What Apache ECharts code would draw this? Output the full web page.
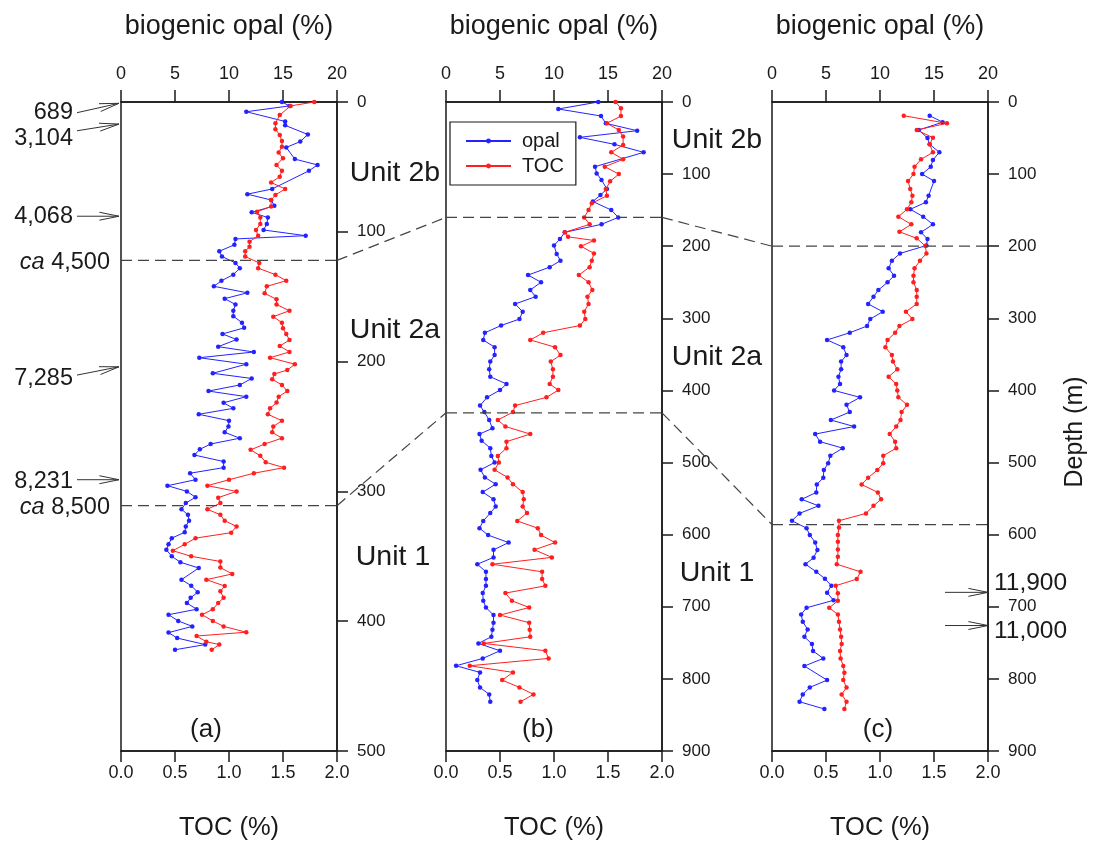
<!DOCTYPE html>
<html>
<head>
<meta charset="utf-8">
<script src="https://cdn.jsdelivr.net/npm/echarts@6/dist/echarts.min.js"></script>
<style>
  html, body { margin: 0; padding: 0; background: #fff; }
  #chart { width: 1094px; height: 846px; }
</style>
</head>
<body>
<div id="chart"></div>
<script>
// ---- Core (a): depth (m) vs biogenic opal (%) and TOC (%) ----
const aOpalDepth = [0,3,7.5,15,18,25,30.5,35,44,48.5,53,67,71,75.5,80,85,89,94,98.6,103,105.5,110,115,119,124,128,133,137.7,142,147,151.5,156,160.8,165,170,174,178.7,183,188.5,192.6,197,202,209,213,218,222.7,227,231.7,236,240.6,245.5,250,254.5,259,263.5,267.6,272,277,281.7,286,291,295.6,300,304.5,309,313.8,318,322.6,327,331.5,336,340.8,345,350,354.6,359,368,372.6,377.7,382,386,390.8,395,399.8,404,408.8,413,418,422];
const aOpal = [14.9,15.6,11.6,15.2,15.2,17.3,16.6,15.3,16.1,18.2,17.4,14.0,11.7,13.9,14.2,12.1,13.6,13.5,13.2,17.1,10.6,10.5,9.1,9.35,10.6,11.0,10.4,9.3,8.6,11.7,9.6,10.6,10.4,10.4,11.2,11.4,9.4,10.7,9.0,12.3,7.25,11.6,8.5,12.1,11.0,8.1,11.6,9.5,10.4,7.2,10.0,9.95,9.6,11.0,8.3,7.3,6.8,9.5,9.5,6.4,6.9,4.3,6.1,6.9,6.0,5.6,6.2,6.3,6.0,5.9,4.7,4.4,4.2,4.7,5.5,7.2,5.6,6.5,7.1,6.45,6.1,7.0,4.4,5.3,6.6,4.4,5.2,7.8,5.0];
const aTocDepth = [0,3,10,16.4,21,25.4,30,34.4,39,43.4,48.5,53,57.5,62,67,71.6,75.5,80.6,84.5,89,94,98.6,103,107.6,111.5,115,119,124,128,133,137.7,142,147.4,152,156,160.8,165.4,170,174.4,178.7,183.4,188,192.6,197,202,206.5,209.5,213.6,218,222.7,227,231.6,236,240.6,245.5,250,254.5,259,263.5,268,272.5,277.6,281.7,286,291,295.6,300,304.8,309,313.8,318,322.6,327,331.8,336,340.8,345.7,350,354,358.7,363.6,368,372.9,377,382,386,390.8,395,399.8,404,408.5,411.4,415.8,418,422];
const aToc = [1.79,1.57,1.47,1.43,1.43,1.47,1.49,1.49,1.46,1.50,1.44,1.49,1.47,1.39,1.52,1.43,1.39,1.39,1.26,1.29,1.29,1.25,1.27,1.19,1.19,1.15,1.15,1.28,1.27,1.43,1.53,1.35,1.33,1.44,1.44,1.56,1.41,1.49,1.50,1.53,1.56,1.47,1.56,1.38,1.61,1.54,1.42,1.40,1.49,1.54,1.46,1.44,1.38,1.36,1.49,1.41,1.40,1.49,1.33,1.20,1.29,1.34,1.51,1.23,1.00,0.80,1.07,0.90,0.92,0.80,0.92,0.96,1.07,1.02,0.69,0.59,0.48,0.65,0.92,0.92,1.03,0.79,0.96,0.92,0.95,0.90,0.85,0.75,0.85,0.95,1.16,0.70,0.79,0.91,0.84];

// ---- Core (b) ----
const bOpalDepth = [0,9.7,19.4,29.6,39.8,49,58.7,69.8,89.7,99,108,120.7,129,138,149.8,160,169.6,180.7,190,199,210.8,220,229,240,250,260.7,270,280,290.8,301,310,320,330,340,351,360,370.7,381,391,399.5,409.6,421,430,441,452.6,460.5,469.7,480,491,500,510,520.6,530,541,551,561,570,581,591,600.6,611,621,631.5,641,651.5,661.6,671,681,691.7,701,711.5,722,732,741.6,750.8,761,771.6,781.8,791,801.7,811.8,821.5,831.7];
const bOpal = [14.1,10.4,14.35,14.8,17.7,12.4,15.6,18.3,13.8,13.95,14.4,14.9,14.3,13.6,15.3,15.95,14.4,11.0,10.55,10.0,10.25,10.6,9.6,7.6,8.8,7.8,8.3,6.4,7.1,6.8,5.1,3.6,3.45,4.5,4.5,4.1,4.0,4.1,5.6,5.0,3.8,3.15,3.55,4.0,4.3,3.1,3.3,4.1,4.2,4.5,3.2,3.6,4.6,3.4,4.4,4.6,4.1,3.45,3.1,3.9,5.8,4.4,4.4,2.9,3.7,3.7,3.7,3.4,3.45,3.7,4.4,4.4,4.3,4.2,3.0,5.0,3.4,0.93,3.15,2.9,3.15,4.0,4.1];
const bTocDepth = [0,8.8,19.4,29.6,38.8,48,59.6,69.8,79.5,89.7,100,110,120.7,130,140.5,149.8,160,169.7,180.7,187,192,200,210,220,229,240,250,260.7,270,280,290.8,301,310,320,330,340,351,360,370.7,381,391,399.5,409.6,421,430,441,450,460.5,471,480,491,500,510,520.6,530,541,551,561,570,581,591,600.6,611,621,631.5,641,651.5,661.6,671,681,691.7,701,711.5,722,732,741.6,750.8,761,771.6,781.8,791,801.7,811.8,821.5,831.7];
const bToc = [1.57,1.62,1.62,1.49,1.60,1.64,1.64,1.53,1.64,1.47,1.60,1.52,1.48,1.49,1.35,1.32,1.28,1.33,1.10,1.13,1.37,1.25,1.37,1.35,1.33,1.23,1.32,1.355,1.31,1.32,1.28,1.29,1.24,0.90,0.78,1.01,1.06,0.97,0.99,0.99,0.96,1.04,0.93,0.64,0.62,0.48,0.55,0.78,0.56,0.56,0.48,0.49,0.45,0.57,0.62,0.71,0.72,0.71,0.75,0.66,0.85,0.88,1.01,0.82,0.98,0.43,0.89,0.89,0.92,0.55,0.61,0.77,0.50,0.77,0.775,0.78,0.35,0.92,0.95,0.22,0.62,0.52,0.68,0.81,0.69];

// ---- Core (c) ----
const cOpalDepth = [19,28,38.8,50,58.7,69.8,80.4,89.7,100,109.6,130,139,148.8,159,169.7,180.7,190,199,210,220,230.7,241,250,260.7,270,280,290.8,301,310.7,320,330,340,351,360,370.7,381,391,400,409.6,420,430,441,450,460.5,471,480,490.5,501,510.4,521,530.4,541.4,551,560,570.5,580.7,591,600.6,610.7,621.4,632,641,651.5,661,670.8,680.5,691,701.4,710.6,720.8,731.4,741.6,751.7,761.4,771.6,782.2,801.7,811.8,821.5,831.7,841.8];
const cOpal = [14.6,15.8,13.6,14.4,14.6,15.5,14.9,14.7,13.9,15.0,14.5,14.25,12.8,14.0,14.9,13.8,14.4,14.3,11.85,11.1,10.8,11.3,10.7,9.85,9.4,8.9,10.25,9.1,8.8,7.2,5.1,6.6,6.9,6.4,6.4,6.15,6.3,5.75,8.15,6.9,7.2,5.45,7.6,4.0,4.45,6.55,5.4,5.2,4.8,4.75,4.15,4.1,2.75,4.3,2.55,1.85,3.2,3.5,4.0,4.2,3.85,3.1,4.1,4.9,5.5,5.1,5.7,3.2,2.7,2.85,3.3,3.0,3.7,3.8,4.75,3.0,5.1,3.5,2.85,2.55,4.85];
const cTocDepth = [19,29.6,38.8,49.5,58.7,69.8,79.5,89.7,100,109.6,120.7,130,139,148.8,159,169.7,180,189,199.7,210,220,230.7,241,250,260.7,270,280,290.8,301,310.7,320,330,340,351,360,370.7,381,391,400,409.6,420,430,441,450,460.5,471,480,490.5,501,510.4,521,530.4,541.4,551,560,570.5,580.7,590,600.6,609.8,620.6,630.6,641,651.5,661.6,670.8,681.4,691.7,701.4,710.6,720.8,731.4,741.6,751.7,761.4,771.6,782.2,791.5,801.7,811.8,821.5,831.7,841.8];
const cToc = [1.22,1.62,1.34,1.49,1.46,1.49,1.38,1.32,1.31,1.26,1.28,1.30,1.29,1.25,1.17,1.29,1.18,1.34,1.42,1.43,1.37,1.32,1.31,1.31,1.34,1.34,1.34,1.24,1.30,1.18,1.14,1.07,1.05,1.11,1.12,1.16,1.08,1.15,1.16,1.17,1.25,1.20,1.19,1.15,1.09,1.14,1.15,1.03,1.03,0.975,0.89,0.83,0.98,1.01,0.94,0.87,0.62,0.62,0.61,0.61,0.61,0.61,0.60,0.82,0.785,0.59,0.61,0.61,0.53,0.61,0.62,0.63,0.64,0.645,0.63,0.635,0.66,0.67,0.66,0.69,0.645,0.69,0.67];

// Unit boundaries (m) in each core: top of Unit 2a, top of Unit 1
const unitBoundA = [122, 311];
const unitBoundB = [160, 431];
const unitBoundC = [200, 586];

// Ages (cal yr BP) marked along the cores
const ageTextA = ['689', '3,104', '4,068', '7,285', '8,231'];
const ageDepthA = [1, 17, 88, 204, 291];
const boundAgeTextA = ['4,500', '8,500'];
const ageTextC = ['11,900', '11,000'];
const ageDepthC = [680, 726];

// Axis ranges and ticks
const opalMax = 20, opalStep = 5;
const tocMax = 2.0, tocStep = 0.5;
const depthMax = [500, 900, 900];
const depthStep = 100;
const panelTags = ['(a)', '(b)', '(c)'];

const FONT = '"Liberation Sans", Arial, Helvetica, sans-serif';
const INK = '#1a1a1a';
const BLUE = '#2323ff';
const RED = '#ff1f1f';

const chart = echarts.init(document.getElementById('chart'), null, { renderer: 'canvas' });

const gridLefts = [121, 446, 772];
const GRID_TOP = 102, GRID_W = 216, GRID_H = 649;

const zip = (xs, ys) => xs.map((x, i) => [x, ys[i]]);
const cores = [
  { opal: zip(aOpal, aOpalDepth), toc: zip(aToc, aTocDepth) },
  { opal: zip(bOpal, bOpalDepth), toc: zip(bToc, bTocDepth) },
  { opal: zip(cOpal, cOpalDepth), toc: zip(cToc, cTocDepth) }
];

const axisLine = { show: true, onZero: false, lineStyle: { color: INK, width: 1.5 } };
const tick = len => ({ show: true, inside: false, length: len, lineStyle: { color: INK, width: 1.5 } });
const grids = [], xAxes = [], yAxes = [], series = [];

cores.forEach((core, i) => {
  grids.push({
    left: gridLefts[i], top: GRID_TOP, width: GRID_W, height: GRID_H,
    show: true, borderColor: INK, borderWidth: 1.5, backgroundColor: 'transparent'
  });
  xAxes.push({
    gridIndex: i, type: 'value', position: 'top', min: 0, max: opalMax, interval: opalStep,
    axisLine, axisTick: tick(12),
    axisLabel: { margin: 19, fontSize: 18, color: INK, fontFamily: FONT },
    splitLine: { show: false }
  });
  xAxes.push({
    gridIndex: i, type: 'value', position: 'bottom', min: 0, max: tocMax, interval: tocStep,
    axisLine, axisTick: tick(11),
    axisLabel: { margin: 13, fontSize: 18, color: INK, fontFamily: FONT, formatter: v => v.toFixed(1) },
    splitLine: { show: false }
  });
  yAxes.push({
    gridIndex: i, type: 'value', position: 'right', inverse: true,
    min: 0, max: depthMax[i], interval: depthStep,
    axisLine, axisTick: tick(11),
    axisLabel: { margin: 20, fontSize: 17, color: INK, fontFamily: FONT },
    splitLine: { show: false }
  });
  series.push({
    name: 'opal', type: 'line', xAxisIndex: 2 * i, yAxisIndex: i, data: core.opal,
    symbol: 'circle', symbolSize: 4.5, showAllSymbol: true,
    lineStyle: { color: BLUE, width: 1 }, itemStyle: { color: BLUE }, z: 3
  });
  series.push({
    name: 'TOC', type: 'line', xAxisIndex: 2 * i + 1, yAxisIndex: i, data: core.toc,
    symbol: 'circle', symbolSize: 4.5, showAllSymbol: true,
    lineStyle: { color: RED, width: 1 }, itemStyle: { color: RED }, z: 4
  });
});

chart.setOption({
  animation: false,
  backgroundColor: '#fff',
  grid: grids,
  xAxis: xAxes,
  yAxis: yAxes,
  series: series,
  legend: {
    data: ['opal', 'TOC'], orient: 'vertical', left: 450, top: 122,
    itemWidth: 45, itemHeight: 6, itemGap: 5,
    padding: [9, 12, 9, 15],
    borderColor: INK, borderWidth: 1.2, backgroundColor: '#fff',
    textStyle: { fontSize: 20, color: INK, fontFamily: FONT, padding: [0, 0, 0, 6] },
    selectedMode: false
  }
});

// ---- Annotations placed through the axes ----
const yPix = (i, d) => chart.convertToPixel({ yAxisIndex: i }, d);
const gl = i => gridLefts[i];
const gr = i => gridLefts[i] + GRID_W;
const g = [];
const dash = { stroke: '#444', lineWidth: 1.2, lineDash: [11, 6] };

const bounds = [unitBoundA, unitBoundB, unitBoundC];
bounds.forEach((b, i) => {
  b.forEach(d => {
    const y = yPix(i, d);
    g.push({ type: 'line', shape: { x1: gl(i), y1: y, x2: gr(i), y2: y }, style: dash, z: 10 });
  });
});
// connectors between neighbouring cores
for (let i = 0; i < 2; i++) {
  for (let k = 0; k < 2; k++) {
    g.push({
      type: 'line',
      shape: { x1: gr(i), y1: yPix(i, bounds[i][k]), x2: gl(i + 1), y2: yPix(i + 1, bounds[i + 1][k]) },
      style: dash, z: 10
    });
  }
}

function arrow(x1, y1, x2, y2) {
  const ang = Math.atan2(y2 - y1, x2 - x1);
  const L = 20, w = 0.2;
  const p1 = [x2 - L * Math.cos(ang - w), y2 - L * Math.sin(ang - w)];
  const p2 = [x2 - L * Math.cos(ang + w), y2 - L * Math.sin(ang + w)];
  g.push({ type: 'line', shape: { x1, y1, x2, y2 }, style: { stroke: '#333', lineWidth: 1 }, z: 10 });
  g.push({ type: 'polyline', shape: { points: [p1, [x2, y2], p2] }, style: { stroke: '#333', lineWidth: 1, fill: null }, z: 10 });
}

const ageFont = { fontSize: 23.5, fontFamily: FONT, fill: INK };
// left side of core (a)
const riseA = [9.4, 6.7, 0, 8.3, 0];
const textDyA = [9, 14, 0, 12, 2];
ageTextA.forEach((t, i) => {
  const yEnd = yPix(0, ageDepthA[i]);
  arrow(77, yEnd + riseA[i], gl(0) - 2, yEnd);
  g.push({ type: 'text', x: 73, y: yEnd + textDyA[i], style: Object.assign({ text: t, align: 'right', verticalAlign: 'middle' }, ageFont), z: 10 });
});
boundAgeTextA.forEach((t, k) => {
  const y = yPix(0, unitBoundA[k]);
  g.push({
    type: 'text', x: 110, y: y + 2,
    style: Object.assign({
      text: '{i|ca} ' + t, align: 'right', verticalAlign: 'middle',
      rich: { i: { fontStyle: 'italic', fontSize: 23.5, fontFamily: FONT, fill: INK } }
    }, ageFont), z: 10
  });
});
// right side of core (c)
const textDyC = [-9, 6];
ageTextC.forEach((t, i) => {
  const y = yPix(2, ageDepthC[i]);
  arrow(945, y, gr(2), y);
  g.push({ type: 'text', x: 994, y: y + textDyC[i], style: Object.assign({ text: t, align: 'left', verticalAlign: 'middle' }, ageFont, { fontSize: 24.5 }), z: 10 });
});

const txt = size => ({ fontSize: size, fontFamily: FONT, fill: INK });
for (let i = 0; i < 3; i++) {
  const cx = gl(i) + GRID_W / 2;
  g.push({ type: 'text', x: cx, y: 27, style: Object.assign({ text: 'biogenic opal (%)', align: 'center', verticalAlign: 'middle' }, txt(27)) });
  g.push({ type: 'text', x: cx, y: 828, style: Object.assign({ text: 'TOC (%)', align: 'center', verticalAlign: 'middle' }, txt(25.5)) });
}
const tagX = [206, 538, 878];
panelTags.forEach((t, i) => {
  g.push({ type: 'text', x: tagX[i], y: 730, style: Object.assign({ text: t, align: 'center', verticalAlign: 'middle' }, txt(26)) });
});
const unitNames = ['Unit 2b', 'Unit 2a', 'Unit 1'];
const unitPosA = [[395, 173], [395, 330], [393, 557]];
const unitPosB = [[717, 140], [717, 357], [717, 573]];
unitNames.forEach((t, k) => {
  g.push({ type: 'text', x: unitPosA[k][0], y: unitPosA[k][1], style: Object.assign({ text: t, align: 'center', verticalAlign: 'middle' }, txt(28.5)) });
  g.push({ type: 'text', x: unitPosB[k][0], y: unitPosB[k][1], style: Object.assign({ text: t, align: 'center', verticalAlign: 'middle' }, txt(28.5)) });
});
g.push({ type: 'text', x: 1075, y: 432, rotation: Math.PI / 2, style: Object.assign({ text: 'Depth (m)', align: 'center', verticalAlign: 'middle' }, txt(25)) });

chart.setOption({ graphic: { elements: g } });
</script>
</body>
</html>
